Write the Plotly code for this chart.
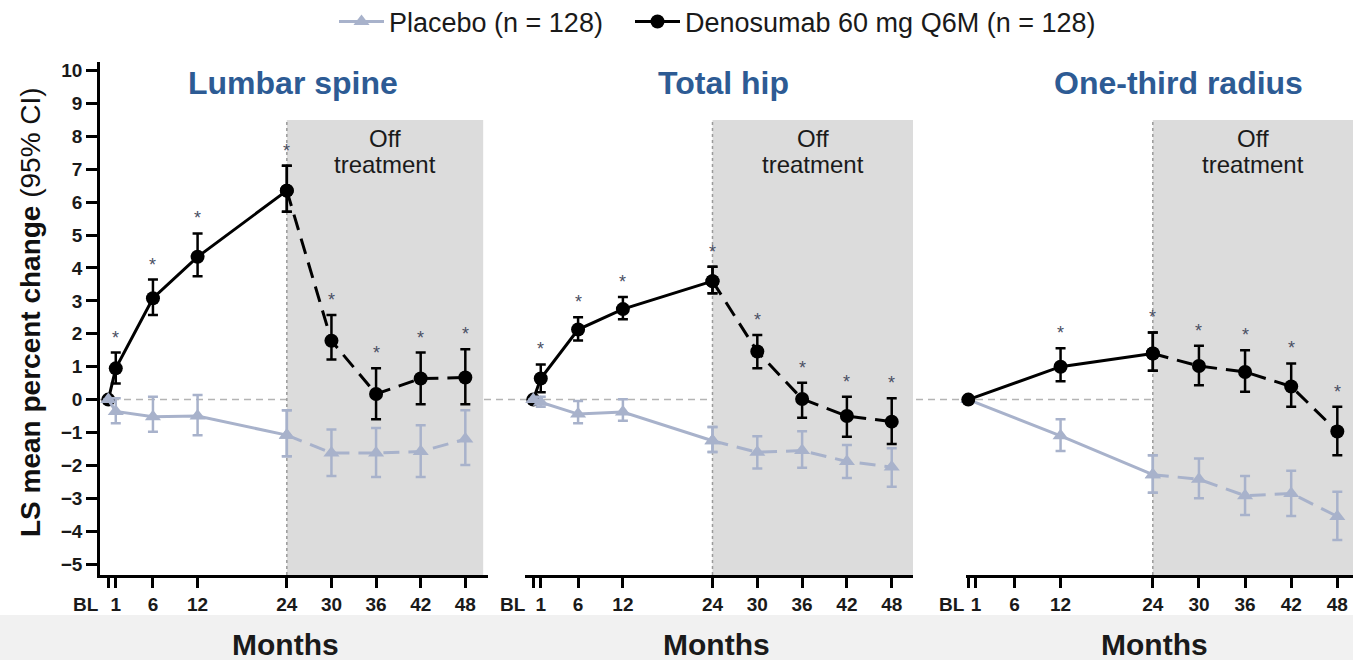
import plotly.graph_objects as go

# ---------------- data ----------------
months_lh = [0, 1, 6, 12, 24, 30, 36, 42, 48]
months_rad = [0, 12, 24, 30, 36, 42, 48]
tick_months = [0, 1, 6, 12, 24, 30, 36, 42, 48]
tick_labels = ["", "1", "6", "12", "24", "30", "36", "42", "48"]
panel_titles = ["Lumbar spine", "Total hip", "One-third radius"]
series_names = ["Placebo (n = 128)", "Denosumab 60 mg Q6M (n = 128)"]

# Lumbar spine
ls_deno = [0, 0.95, 3.08, 4.34, 6.35, 1.79, 0.17, 0.64, 0.67]
ls_deno_hi = [0, 1.43, 3.65, 5.05, 7.11, 2.57, 0.95, 1.43, 1.53]
ls_deno_lo = [0, 0.49, 2.57, 3.75, 5.71, 1.22, -0.60, -0.14, -0.14]
ls_pbo = [0, -0.36, -0.52, -0.50, -1.08, -1.62, -1.62, -1.58, -1.20]
ls_pbo_hi = [0, 0.04, 0.09, 0.14, -0.32, -0.91, -0.86, -0.78, -0.32]
ls_pbo_lo = [0, -0.72, -0.98, -1.08, -1.72, -2.32, -2.35, -2.35, -1.99]

# Total hip
th_deno = [0, 0.64, 2.13, 2.75, 3.60, 1.46, 0.02, -0.50, -0.67]
th_deno_hi = [0, 1.07, 2.50, 3.12, 4.04, 1.96, 0.51, 0.09, 0.04]
th_deno_lo = [0, 0.22, 1.80, 2.44, 3.23, 0.95, -0.55, -1.13, -1.35]
th_pbo = [0, -0.08, -0.44, -0.38, -1.25, -1.60, -1.55, -1.88, -2.05]
th_pbo_hi = [0, 0.09, -0.04, 0.01, -0.83, -1.11, -0.96, -1.38, -1.48]
th_pbo_lo = [0, -0.22, -0.72, -0.64, -1.59, -2.09, -2.07, -2.38, -2.65]

# One-third radius
rd_deno = [0, 1.00, 1.40, 1.02, 0.84, 0.40, -0.97]
rd_deno_hi = [0, 1.56, 2.04, 1.64, 1.50, 1.10, -0.22]
rd_deno_lo = [0, 0.56, 0.88, 0.44, 0.24, -0.22, -1.69]
rd_pbo = [0, -1.10, -2.28, -2.42, -2.92, -2.85, -3.55]
rd_pbo_hi = [0, -0.60, -1.69, -1.79, -2.32, -2.16, -2.80]
rd_pbo_lo = [0, -1.56, -2.83, -3.00, -3.51, -3.54, -4.27]

# ---------------- layout constants ----------------
W, H = 1353, 660
PLOT_TOP, PLOT_BOT = 62, 575
FONT = "Liberation Sans, Arial, sans-serif"
PBO_COLOR = "#a8b2cb"
DENO_COLOR = "#000000"
TITLE_COLOR = "#2d5b94"
STAR_COLOR = "#4a4f63"
SHADE = "#dcdcdc"
TXT = "#1a1a1a"
Y_RANGE = [-5.33, 10.26]
px_domains = [(100, 488), (525, 913), (966, 1353)]
x_ranges = [[-1.12, 51.05], [-1.11, 50.85], [-0.30, 50.04]]
shade_end = [50.4, 50.85, 50.04]
shade_top = 8.5
bl_label_px = [86, 513, 952]
title_px = [293, 723, 1178]
months_px = [285, 716, 1154]
deno_on_top = [False, False, True]

panels = [
    (months_lh, ls_pbo, ls_pbo_hi, ls_pbo_lo, ls_deno, ls_deno_hi, ls_deno_lo),
    (months_lh, th_pbo, th_pbo_hi, th_pbo_lo, th_deno, th_deno_hi, th_deno_lo),
    (months_rad, rd_pbo, rd_pbo_hi, rd_pbo_lo, rd_deno, rd_deno_hi, rd_deno_lo),
]


def py(p):
    return (PLOT_BOT - p) / (PLOT_BOT - PLOT_TOP)


def y_of_px(p):
    return Y_RANGE[0] + (PLOT_BOT - p) / (PLOT_BOT - PLOT_TOP) * (Y_RANGE[1] - Y_RANGE[0])


fig = go.Figure()
shapes = []
annotations = []

# light grey band at bottom (screen capture background)
shapes.append(dict(type="rect", xref="paper", yref="paper", x0=0, x1=1,
                   y0=py(660), y1=py(615), fillcolor="#f1f1f1", line_width=0,
                   layer="below"))

for i, (months, pb, pbh, pbl, dn, dnh, dnl) in enumerate(panels):
    sfx = "" if i == 0 else str(i + 1)
    xa, ya = "x" + sfx, "y" + sfx
    k = months.index(24)

    series = [
        (pb, pbh, pbl, PBO_COLOR, "triangle-up", 14, series_names[0], "legend"),
        (dn, dnh, dnl, DENO_COLOR, "circle", 14, series_names[1], "legend2"),
    ]
    if not deno_on_top[i]:
        series = series[::-1]

    for vals, hi, lo, color, sym, size, name, lg in series:
        plus = [h - v for h, v in zip(hi, vals)]
        minus = [v - l for v, l in zip(vals, lo)]
        for seg, dash, show in [(slice(0, k + 1), "solid", i == 0),
                                (slice(k, None), "16px,9px", False)]:
            fig.add_trace(go.Scatter(
                x=months[seg], y=vals[seg], xaxis=xa, yaxis=ya,
                mode="lines+markers", name=name, legend=lg,
                showlegend=show,
                line=dict(color=color, width=3, dash=dash),
                marker=dict(symbol=sym, size=size, color=color),
                error_y=dict(type="data", symmetric=False, array=plus[seg],
                             arrayminus=minus[seg], color=color,
                             thickness=2.5, width=5),
                cliponaxis=False,
            ))
        # significance stars
        if lg == "legend2":
            for m, h in zip(months[1:], hi[1:]):
                annotations.append(dict(x=m, y=h, xref=xa, yref=ya, text="*",
                                        showarrow=False, yanchor="middle",
                                        xanchor="center", yshift=15,
                                        font=dict(family=FONT, size=18,
                                                  color=STAR_COLOR)))

    # shaded off-treatment area + dotted boundary
    shapes.append(dict(type="rect", xref=xa, yref=ya, x0=24, x1=shade_end[i],
                       y0=Y_RANGE[0], y1=shade_top, fillcolor=SHADE,
                       line_width=0, layer="below"))
    shapes.append(dict(type="line", xref=xa, yref=ya, x0=24, x1=24,
                       y0=Y_RANGE[0], y1=shade_top,
                       line=dict(color="#9a9a9a", width=1.5, dash="dot"),
                       layer="below"))
    for txt, ypx in [("Off", 138), ("treatment", 164)]:
        annotations.append(dict(x=(24 + shade_end[i]) / 2, y=y_of_px(ypx),
                                xref=xa, yref=ya, text=txt, showarrow=False,
                                xanchor="center", yanchor="middle",
                                font=dict(family=FONT, size=24, color=TXT)))
    # panel title
    annotations.append(dict(x=title_px[i] / W, y=py(83), xref="paper",
                            yref="paper", text="<b>" + panel_titles[i] + "</b>",
                            showarrow=False, xanchor="center", yanchor="middle",
                            font=dict(family=FONT, size=32, color=TITLE_COLOR)))
    # BL label
    annotations.append(dict(x=bl_label_px[i] / W, y=py(605), xref="paper",
                            yref="paper", text="<b>BL</b>", showarrow=False,
                            xanchor="center", yanchor="middle",
                            font=dict(family=FONT, size=19, color=TXT)))
    # Months label
    annotations.append(dict(x=months_px[i] / W, y=py(645), xref="paper",
                            yref="paper", text="<b>Months</b>", showarrow=False,
                            xanchor="center", yanchor="middle",
                            font=dict(family=FONT, size=30, color=TXT)))

    d0, d1 = px_domains[i]
    fig.update_layout(**{
        "xaxis" + sfx: dict(domain=[d0 / W, d1 / W], range=x_ranges[i],
                            anchor=ya, showline=True, linecolor="black",
                            linewidth=2.5, ticks="outside", ticklen=10,
                            tickwidth=3, tickcolor="black",
                            tickmode="array", tickvals=tick_months,
                            ticktext=tick_labels, showgrid=False,
                            zeroline=False,
                            tickfont=dict(family=FONT, size=19,
                                          color=TXT, weight="bold")),
        "yaxis" + sfx: dict(domain=[0, 1], range=Y_RANGE, anchor=xa,
                            visible=(i == 0), showline=True, linecolor="black",
                            linewidth=2.5, ticks="outside", ticklen=11,
                            tickwidth=3, tickcolor="black", tickmode="array",
                            tickvals=list(range(-5, 11)), showgrid=False,
                            zeroline=False,
                            tickfont=dict(family=FONT, size=19,
                                          color=TXT, weight="bold")),
    })

# zero reference line across all panels
shapes.append(dict(type="line", xref="paper", yref="y", x0=100 / W, x1=1,
                   y0=0, y1=0, line=dict(color="#b4b4b4", width=1.5,
                                         dash="7px,5px"), layer="below"))

# y-axis title
annotations.append(dict(x=30 / W, y=py(312), xref="paper", yref="paper",
                        text="<b>LS mean percent change</b> (95% CI)",
                        textangle=-90, showarrow=False,
                        xanchor="center", yanchor="middle",
                        font=dict(family=FONT, size=28, color="#111111")))

legend_common = dict(orientation="h", yref="container", y=1 - 22 / H,
                     yanchor="middle", xanchor="left", itemwidth=45,
                     font=dict(family=FONT, size=27, color=TXT),
                     bgcolor="rgba(0,0,0,0)")

fig.update_layout(
    width=W, height=H,
    margin=dict(l=0, r=0, t=PLOT_TOP, b=H - PLOT_BOT),
    paper_bgcolor="white", plot_bgcolor="rgba(0,0,0,0)",
    shapes=shapes, annotations=annotations,
    showlegend=True,
    legend=dict(x=334 / W, **legend_common),
    legend2=dict(x=630 / W, **legend_common),
    font=dict(family=FONT),
)

fig.write_html("out.html", config={"displayModeBar": False},
               post_script="document.body.style.margin='0';")
